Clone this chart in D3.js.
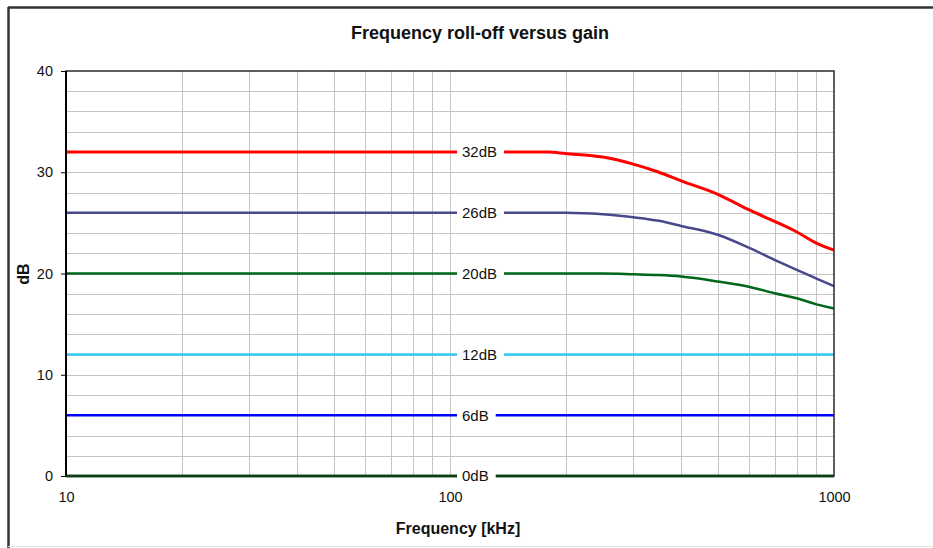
<!DOCTYPE html>
<html>
<head>
<meta charset="utf-8">
<script src="https://cdn.jsdelivr.net/npm/d3@7"></script>
<style>
  body { margin: 0; background: #fff; }
  text { font-family: "Liberation Sans", Arial, sans-serif; }
</style>
</head>
<body>
<script>
/* frequency points (kHz) shared by every gain curve */
var freqs = [10, 100, 150, 180, 200, 250, 300, 350, 400, 500, 600, 700, 800, 900, 1000];

/* response (dB) for each gain setting */
var gain32 = [32, 32, 32, 32, 31.85, 31.5, 30.8, 30.0, 29.15, 27.8, 26.3, 25.15, 24.1, 23.0, 22.3];
var gain26 = [26, 26, 26, 26, 26, 25.85, 25.55, 25.2, 24.7, 23.8, 22.55, 21.35, 20.35, 19.5, 18.75];
var gain20 = [20, 20, 20, 20, 20, 20, 19.93, 19.85, 19.7, 19.2, 18.7, 18.05, 17.55, 16.95, 16.55];
var gain12 = [12, 12, 12, 12, 12, 12, 12, 12, 12, 12, 12, 12, 12, 12, 12];
var gain6  = [6, 6, 6, 6, 6, 6, 6, 6, 6, 6, 6, 6, 6, 6, 6];
var gain0  = [0, 0, 0, 0, 0, 0, 0, 0, 0, 0, 0, 0, 0, 0, 0];

var seriesNames = ["32dB", "26dB", "20dB", "12dB", "6dB", "0dB"];
var seriesValues = [gain32, gain26, gain20, gain12, gain6, gain0];
var seriesColors = ["#ff0000", "#48488a", "#00661a", "#33ccf5", "#0000ff", "#0d3d12"];

var yTicks = [0, 10, 20, 30, 40];
var xTicks = [10, 100, 1000];

/* layout */
var width = 933,
    height = 548;
var plotLeft = 66, plotRight = 834, plotTop = 71, plotBottom = 476;

var svg = d3.select("body").append("svg")
    .attr("width", width)
    .attr("height", height);

/* outer frame */
svg.append("line").attr("x1", 8).attr("x2", width).attr("y1", 7.5).attr("y2", 7.5)
    .attr("stroke", "#333").attr("stroke-width", 2.5);
svg.append("line").attr("x1", 8.5).attr("x2", 8.5).attr("y1", 7).attr("y2", height)
    .attr("stroke", "#333").attr("stroke-width", 2.5);
svg.append("line").attr("x1", 8).attr("x2", width).attr("y1", 546.5).attr("y2", 546.5)
    .attr("stroke", "#e4e4e4").attr("stroke-width", 1);

var x = d3.scaleLog().domain([10, 1000]).range([plotLeft, plotRight]);
var y = d3.scaleLinear().domain([0, 40]).range([plotBottom, plotTop]);

/* grid */
var grid = svg.append("g").attr("stroke", "#c4c4c4").attr("stroke-width", 1);
grid.selectAll("line.v")
    .data(x.ticks().filter(function(d) { return d > 10 && d < 1000; }))
    .enter().append("line")
    .attr("class", "v")
    .attr("x1", function(d) { return Math.round(x(d)) + 0.5; })
    .attr("x2", function(d) { return Math.round(x(d)) + 0.5; })
    .attr("y1", plotTop).attr("y2", plotBottom);
grid.selectAll("line.h")
    .data(d3.range(2, 40, 2))
    .enter().append("line")
    .attr("class", "h")
    .attr("x1", plotLeft).attr("x2", plotRight)
    .attr("y1", function(d) { return Math.round(y(d)) + 0.5; })
    .attr("y2", function(d) { return Math.round(y(d)) + 0.5; });

/* curves */
var line = d3.line()
    .x(function(d) { return x(d[0]); })
    .y(function(d) { return y(d[1]); })
    .curve(d3.curveMonotoneX);

seriesValues.forEach(function(vals, i) {
    svg.append("path")
        .datum(freqs.map(function(f, j) { return [f, vals[j]]; }))
        .attr("fill", "none")
        .attr("stroke", seriesColors[i])
        .attr("stroke-width", i == 0 ? 3 : 2.5)
        .attr("d", line);
});

/* plot border */
svg.append("rect")
    .attr("x", plotLeft).attr("y", plotTop)
    .attr("width", plotRight - plotLeft).attr("height", plotBottom - plotTop)
    .attr("fill", "none").attr("stroke", "#2a2a2a").attr("stroke-width", 1.5);
svg.append("line").attr("x1", plotLeft).attr("x2", plotLeft).attr("y1", plotTop).attr("y2", plotBottom)
    .attr("stroke", "#000").attr("stroke-width", 2);

/* redraw the 0dB line over the axis */
svg.append("line")
    .attr("x1", plotLeft).attr("x2", plotRight).attr("y1", y(0)).attr("y2", y(0))
    .attr("stroke", seriesColors[5]).attr("stroke-width", 2.5);

/* series labels on white boxes */
seriesValues.forEach(function(vals, i) {
    var g = svg.append("g");
    var t = g.append("text")
        .attr("x", x(100) + 12)
        .attr("y", y(vals[1]))
        .attr("dy", "0.36em")
        .attr("font-size", "15px")
        .attr("fill", "#111")
        .text(seriesNames[i]);
    var bb = t.node().getBBox();
    g.insert("rect", "text")
        .attr("x", bb.x - 5).attr("y", bb.y)
        .attr("width", bb.width + 12).attr("height", bb.height)
        .attr("fill", "#fff");
});

/* y axis */
var yAxis = d3.axisLeft(y).tickValues(yTicks).tickSize(5).tickPadding(8);
var gy = svg.append("g").attr("transform", "translate(" + plotLeft + ",0)").call(yAxis);
gy.select(".domain").remove();
gy.selectAll("text").attr("font-size", "14.5px").attr("fill", "#111")
    .style("font-family", "'Liberation Sans', Arial, sans-serif");

/* x axis: labels only */
var xAxis = d3.axisBottom(x).tickValues(xTicks).tickFormat(d3.format("d")).tickSize(0).tickPadding(16);
var gx = svg.append("g").attr("transform", "translate(0," + plotBottom + ")").call(xAxis);
gx.select(".domain").remove();
gx.selectAll("text").attr("font-size", "14.5px").attr("fill", "#111")
    .style("font-family", "'Liberation Sans', Arial, sans-serif");

/* titles */
svg.append("text")
    .attr("x", 480).attr("y", 39)
    .attr("text-anchor", "middle")
    .attr("font-size", "18px").attr("font-weight", "bold").attr("fill", "#111")
    .text("Frequency roll-off versus gain");

svg.append("text")
    .attr("x", 458).attr("y", 534)
    .attr("text-anchor", "middle")
    .attr("font-size", "16px").attr("font-weight", "bold").attr("fill", "#111")
    .text("Frequency [kHz]");

svg.append("text")
    .attr("transform", "translate(29,274) rotate(-90)")
    .attr("text-anchor", "middle")
    .attr("font-size", "16px").attr("font-weight", "bold").attr("fill", "#111")
    .text("dB");
</script>
</body>
</html>
